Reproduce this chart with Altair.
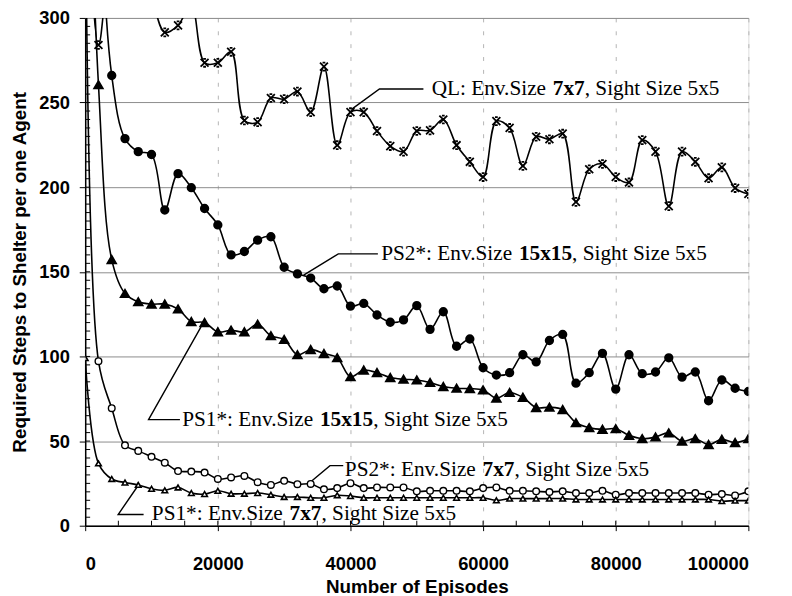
import altair as alt
import pandas as pd

# ---------------- data ----------------
episodes = list(range(0, 100001, 2000))

ql = [400, 284, 335, 345, 330, 312, 291.5, 295.6, 308, 273.5,
      273.5, 280, 239.4, 238.4, 252.7, 252, 256.5, 244.3, 271.2, 224.8,
      244.3, 244.3, 233.2, 224.3, 221, 233.2, 233.6, 240, 224.8, 215,
      206, 239, 235, 212.6, 229.8, 228.3, 231.6, 191.3, 210.6, 213.7,
      206, 202.8, 227.8, 221, 188.8, 221, 215, 205.3, 211.7, 199.5,
      196]

ps2_15 = [650, 400, 266, 228.7, 221, 219.3, 186.5, 208, 199.7, 187.4,
          177.7, 160, 162, 168.7, 170.7, 152.7, 148.8, 146.3, 140, 141.6,
          129.7, 131.3, 124.5, 120.2, 121.6, 130, 116, 126.4, 106, 110.3,
          93.3, 89, 90.4, 101, 96.8, 109.4, 113, 84.2, 90.4, 101.8,
          80.7, 101, 89.8, 90.8, 99.2, 87.8, 90.8, 73.8, 86.1, 81.2,
          79.3]

ps1_15 = [480, 260.5, 157.2, 137.2, 132.3, 130.9, 130.9, 128, 120.6, 120,
          114.5, 115.5, 114.5, 119, 112.2, 110, 101, 104, 101.7, 99.2,
          88, 91.9, 90.4, 87.5, 86.5, 86.1, 84.6, 82.2, 81.2, 81,
          80.2, 75.4, 78.7, 75.8, 69.8, 70, 68.6, 60.8, 57.9, 56.9,
          57.3, 53.4, 51.4, 52.4, 54.8, 49.9, 51.4, 47.9, 51, 49.1,
          51.4]

ps2_7 = [420, 97.2, 69.4, 47.5, 44.2, 40.7, 37.2, 32.3, 32, 31.4,
         27.6, 28.5, 29.4, 25.7, 24.1, 26.5, 24.5, 24.7, 21.5, 22.2,
         25.1, 22.2, 22.6, 22.6, 22.6, 20.3, 20.6, 20.6, 20.6, 20.3,
         22.2, 22.6, 20.6, 20.6, 20.3, 19.9, 20.3, 19.3, 19.3, 20.6,
         18.3, 19.3, 19.3, 19.3, 19.3, 19.3, 19.3, 18.3, 18.7, 17.9,
         20.3]

ps1_7 = [99, 36.8, 27.6, 25.5, 24.1, 21.8, 20.9, 22.6, 19.3, 18.7,
         20.6, 18.9, 18.9, 19.3, 18.3, 17.0, 17.0, 16.5, 16.5, 18.0,
         17.5, 16.5, 16.5, 16.5, 16.5, 16.5, 16.5, 16.5, 16.5, 16.5,
         16.5, 15.0, 16.0, 16.0, 16.0, 16.0, 16.0, 15.5, 15.5, 15.5,
         15.5, 15.5, 15.5, 15.5, 15.5, 15.5, 15.5, 15.5, 14.5, 14.8,
         14.8]

series_names = ["QL", "PS2_15", "PS1_15", "PS2_7", "PS1_7"]
series_vals = [ql, ps2_15, ps1_15, ps2_7, ps1_7]

x_ticks = [0, 20000, 40000, 60000, 80000, 100000]
y_ticks = [0, 50, 100, 150, 200, 250, 300]
y_minor = list(range(5, 300, 5))
x_minor = list(range(5000, 100000, 5000))

# annotations: left x (episodes), y (steps), regular prefix, bold, suffix
ann_x = [52239, 44627, 14627, 39149, 10045]
ann_y = [257.9, 160.2, 62.2, 32.7, 6.6]
ann_pre = ["QL: Env.Size ", "PS2*: Env.Size ", "PS1*: Env.Size ",
           "PS2*: Env.Size ", "PS1*: Env.Size "]
ann_bold = ["7x7", "15x15", "15x15", "7x7", "7x7"]
ann_post = [", Sight Size 5x5"] * 5

# leader lines (three vertices each)
lead_x = [[51000, 44373, 40149], [44134, 38164, 32940], [14284, 9552, 17463],
          [38910, 36910, 33925], [8806, 4970, 8060]]
lead_y = [[258, 258, 246], [160.6, 160.6, 148], [62.7, 62.7, 117.5],
          [35.5, 35.5, 25.7], [6.6, 6.6, 24.2]]

# ---------------- layout ----------------
W, H = 670, 513
XMAX, YMAX = 100000, 300
FS = 21.5
LFS = 18.5
TFS = 19
TNR = {' ': 250, '*': 500, ',': 250, '.': 250, ':': 278, 'E': 611, 'L': 611,
       'P': 556, 'Q': 722, 'S': 556, 'e': 444, 'g': 500, 'h': 500, 'i': 278,
       'n': 500, 't': 278, 'v': 500, 'x': 500, 'z': 444}


def text_w(s):
    return sum(TNR.get(c, 500) for c in s) / 1000.0 * FS


def px_to_x(px):
    return px * XMAX / W


rows = []
for name, vals in zip(series_names, series_vals):
    for e, v in zip(episodes, vals):
        rows.append({"series": name, "episode": e, "steps": v})
df = pd.DataFrame(rows)

reg_rows, bold_rows = [], []
for x0, y0, pre, b, post in zip(ann_x, ann_y, ann_pre, ann_bold, ann_post):
    reg_rows.append({"x": x0, "y": y0, "t": pre})
    bold_rows.append({"x": x0 + px_to_x(text_w(pre)), "y": y0, "t": b})
    reg_rows.append({"x": x0 + px_to_x(text_w(pre) + text_w(b)), "y": y0, "t": post})
df_reg = pd.DataFrame(reg_rows)
df_bold = pd.DataFrame(bold_rows)

lead_rows = []
for i, (lx, ly) in enumerate(zip(lead_x, lead_y)):
    for k, (a, b) in enumerate(zip(lx, ly)):
        lead_rows.append({"g": i, "o": k, "x": a, "y": b})
df_lead = pd.DataFrame(lead_rows)

xs = alt.Scale(domain=[0, XMAX], nice=False, zero=False)
ys = alt.Scale(domain=[0, YMAX], nice=False, zero=False)

XT = "Number of Episodes"
YT = "Required Steps to Shelter per one Agent"
FONT_KW = dict(labelFont="Liberation Sans", labelFontWeight="bold", labelFontSize=LFS,
               labelColor="black", titleFont="Liberation Sans", titleFontWeight="bold",
               titleFontSize=TFS, titleColor="black")
x_axis = alt.Axis(values=x_ticks, format="d", title=XT,
                  grid=True, gridColor="#b4b4b4", gridDash=[4, 9], gridWidth=1,
                  tickSize=5, tickColor="black", domainColor="black", domainWidth=1.5,
                  labelPadding=24, titleY=62, titleBaseline="middle", **FONT_KW)
y_axis = alt.Axis(values=y_ticks, title=YT,
                  grid=True, gridColor="#8c8c8c", gridWidth=1,
                  tickSize=6, tickColor="black", domainColor="black", domainWidth=1.5,
                  labelPadding=10, titlePadding=9, **FONT_KW)


def X(f):
    return alt.X(f, scale=xs, axis=x_axis, title=XT)


def Y(f):
    return alt.Y(f, scale=ys, axis=y_axis, title=YT)


lines = alt.Chart(df).mark_line(clip=True, interpolate="catmull-rom", color="black",
                                strokeWidth=1.6).encode(
    x=X("episode:Q"), y=Y("steps:Q"), detail="series:N")


def pts(name, **kw):
    return alt.Chart(df).transform_filter(alt.datum.series == name).mark_point(
        clip=True, opacity=1, **kw).encode(x=X("episode:Q"), y=Y("steps:Q"))


XSHAPE = "M-1,-1L1,1M-1,1L1,-1M-0.35,-1L0.35,-1M-0.35,1L0.35,1"
p_ql = pts("QL", shape=XSHAPE, size=64, filled=False, stroke="black", strokeWidth=1.8)
p_ps2_15 = pts("PS2_15", shape="circle", size=55, filled=True, fill="black", stroke="black")
p_ps1_15 = pts("PS1_15", shape="triangle-up", size=70, filled=True, fill="black", stroke="black")
p_ps2_7 = pts("PS2_7", shape="circle", size=45, filled=True, fill="white", stroke="black",
              strokeWidth=1.4)
p_ps1_7 = pts("PS1_7", shape="triangle-up", size=32, filled=True, fill="white", stroke="black",
              strokeWidth=1.6)

ymin_df = pd.DataFrame({"v": y_minor})
xmin_df = pd.DataFrame({"v": x_minor})
ytick_minor = alt.Chart(ymin_df).mark_rule(color="black", strokeWidth=1).encode(
    y=Y("v:Q"), x=alt.value(0), x2=alt.value(5))
xtick_minor = alt.Chart(xmin_df).mark_rule(color="black", strokeWidth=1).encode(
    x=X("v:Q"), y=alt.value(H), y2=alt.value(H - 5))

leaders = alt.Chart(df_lead).mark_line(color="black", strokeWidth=1.4).encode(
    x=X("x:Q"), y=Y("y:Q"), detail="g:N", order="o:Q")

t_reg = alt.Chart(df_reg).mark_text(font="Liberation Serif", fontSize=FS, align="left",
                                    baseline="middle", color="black").encode(
    x=X("x:Q"), y=Y("y:Q"), text="t:N")
t_bold = alt.Chart(df_bold).mark_text(font="Liberation Serif", fontSize=FS, fontWeight="bold",
                                      align="left", baseline="middle", color="black").encode(
    x=X("x:Q"), y=Y("y:Q"), text="t:N")

chart = alt.layer(
    lines, ytick_minor, xtick_minor, leaders,
    p_ql, p_ps2_15, p_ps1_15, p_ps2_7, p_ps1_7, t_reg, t_bold
).properties(
    width=W, height=H,
    padding={"left": 78, "top": 7, "right": 36, "bottom": 68},
    autosize=alt.AutoSizeParams(type="none"),
).configure_view(
    stroke="black", strokeWidth=1.5, fill="white"
).configure(background="white")

chart.save("out.html", embed_options={"renderer": "svg", "actions": False})
